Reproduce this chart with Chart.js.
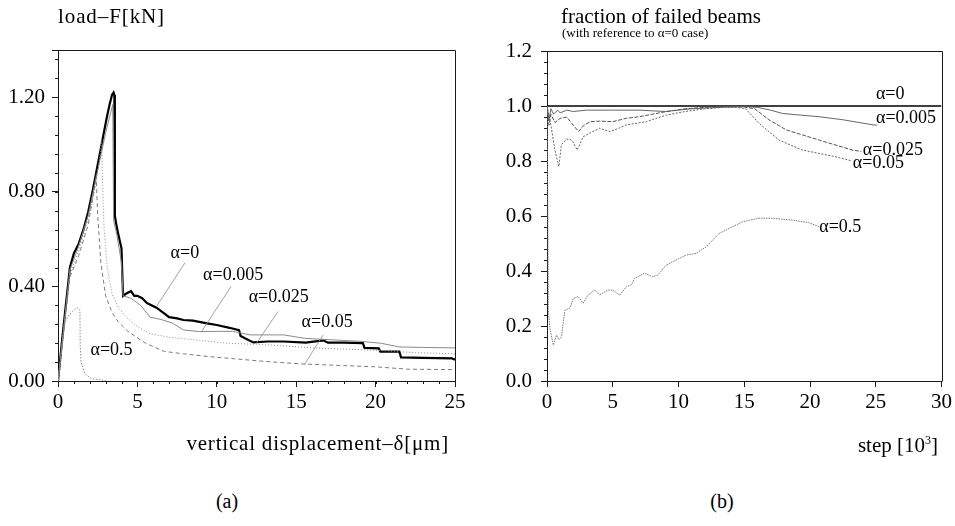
<!DOCTYPE html>
<html>
<head>
<meta charset="utf-8">
<script src="https://cdn.jsdelivr.net/npm/chart.js@4.4.0/dist/chart.umd.min.js"></script>
<style>
  body { margin: 0; background: #fff; }
  #wrap { position: relative; width: 955px; height: 526px; overflow: hidden; font-family: "Liberation Serif", serif; color: #000; }
  canvas { position: absolute; top: 0; }
  .txt { position: absolute; line-height: 1; white-space: nowrap; font-family: "Liberation Serif", serif; }
</style>
</head>
<body>
<div id="wrap">
  <canvas id="chartA" width="470" height="460" style="left:0"></canvas>
  <canvas id="chartB" width="485" height="460" style="left:470px"></canvas>
  <div class="txt" style="left:58px; top:6px; font-size:21px; letter-spacing:0.9px">load–F[kN]</div>
  <div class="txt" style="left:561px; top:6px; font-size:21px">fraction of failed beams</div>
  <div class="txt" style="left:562px; top:26px; font-size:13px">(with reference to α=0 case)</div>
  <div class="txt" style="right:506px; top:433px; font-size:21px; letter-spacing:0.8px">vertical displacement–δ[μm]</div>
  <div class="txt" style="right:17px; top:434px; font-size:21px">step [10<sup style="font-size:12px; vertical-align:8px">3</sup>]</div>
  <div class="txt" style="left:227px; top:491px; font-size:20px; transform:translateX(-50%)">(a)</div>
  <div class="txt" style="left:722px; top:491px; font-size:20px; transform:translateX(-50%)">(b)</div>
</div>
<script>
// (a) load vs vertical displacement
const dispA0 = [0, 0.3, 0.75, 1.0, 1.3, 1.6, 1.9, 2.2, 2.5, 2.8, 3.06, 3.25, 3.4, 3.5, 3.55, 3.58, 3.65, 3.8, 4.0, 4.05, 4.1, 4.3, 4.6, 4.8, 5.0, 5.3, 5.6, 6.2, 6.6, 7.0, 7.5, 7.9, 8.5, 9.3, 10.0, 10.8, 11.4, 11.5, 11.8, 12.3, 13.2, 14.2, 15.6, 16.7, 17.0, 18.0, 19.2, 19.3, 20.2, 20.3, 21.5, 21.6, 23.0, 24.8, 25];
const loadA0 = [0, 0.2, 0.48, 0.54, 0.58, 0.64, 0.715, 0.81, 0.915, 1.02, 1.11, 1.17, 1.21, 1.22, 1.21, 0.70, 0.67, 0.62, 0.56, 0.45, 0.36, 0.37, 0.38, 0.36, 0.36, 0.35, 0.33, 0.31, 0.29, 0.27, 0.265, 0.258, 0.255, 0.245, 0.237, 0.225, 0.215, 0.19, 0.18, 0.163, 0.167, 0.167, 0.162, 0.172, 0.162, 0.162, 0.16, 0.14, 0.138, 0.124, 0.124, 0.10, 0.098, 0.096, 0.09];

const dispA005 = [0, 0.75, 1.3, 1.9, 2.5, 3.0, 3.3, 3.45, 3.5, 3.7, 4.0, 4.1, 4.6, 5.2, 5.8, 6.5, 7.2, 7.9, 8.9, 10.0, 11.0, 12.1, 14.2, 15.6, 17.3, 19.0, 20.3, 21.5, 23.0, 25];
const loadA005 = [0, 0.47, 0.57, 0.70, 0.89, 1.05, 1.13, 1.17, 0.68, 0.62, 0.50, 0.36, 0.35, 0.32, 0.27, 0.26, 0.245, 0.216, 0.209, 0.21, 0.21, 0.195, 0.195, 0.18, 0.174, 0.168, 0.16, 0.144, 0.142, 0.14];

const dispA025 = [0, 0.75, 1.3, 1.9, 2.3, 2.6, 2.75, 2.8, 2.9, 3.1, 3.4, 3.8, 4.3, 5.0, 5.8, 7.0, 8.5, 10.6, 12.5, 14, 16, 18, 20, 22.5, 25];
const loadA025 = [0, 0.45, 0.55, 0.68, 0.80, 0.93, 1.02, 0.85, 0.65, 0.48, 0.37, 0.31, 0.27, 0.23, 0.20, 0.185, 0.175, 0.16, 0.155, 0.15, 0.14, 0.135, 0.13, 0.12, 0.115];

const dispA05 = [0, 0.75, 1.3, 1.9, 2.2, 2.4, 2.5, 2.7, 3.0, 3.4, 3.8, 4.4, 5.5, 6.7, 7.9, 9.5, 11.1, 13, 15.4, 18, 20, 22, 25];
const loadA05 = [0, 0.44, 0.53, 0.66, 0.78, 0.87, 0.70, 0.50, 0.36, 0.29, 0.25, 0.21, 0.16, 0.125, 0.115, 0.103, 0.094, 0.083, 0.072, 0.065, 0.06, 0.05, 0.048];

const dispA5 = [0, 0.44, 0.7, 1.0, 1.2, 1.38, 1.40, 1.45, 1.7, 2.1, 3.0];
const loadA5 = [0, 0.25, 0.28, 0.30, 0.31, 0.30, 0.15, 0.08, 0.03, 0.01, 0.002];

// (b) fraction of failed beams vs step [10^3]
const stepB0 = [0, 30];
const fracB0 = [1, 1];

const stepB005 = [0, 0.15, 0.3, 0.5, 0.8, 1.0, 1.5, 2.0, 3.0, 5.0, 7.0, 9.0, 11, 13, 15, 16, 17, 17.9, 19, 20.7, 22.5, 24.7, 25.1];
const fracB005 = [1.0, 0.95, 0.99, 0.97, 0.985, 0.975, 0.985, 0.98, 0.985, 0.985, 0.985, 0.98, 0.99, 0.995, 0.998, 0.995, 0.985, 0.973, 0.968, 0.961, 0.95, 0.932, 0.93];

const stepB025 = [0, 0.15, 0.3, 0.6, 1.0, 1.5, 2.0, 2.4, 2.8, 3.3, 4.0, 5.0, 6.0, 7.0, 8.0, 9.0, 10.5, 12, 13.5, 15, 15.8, 16.9, 18.2, 20.7, 23.2, 23.9];
const fracB025 = [1.0, 0.93, 0.97, 0.94, 0.955, 0.96, 0.93, 0.907, 0.93, 0.943, 0.945, 0.943, 0.955, 0.961, 0.97, 0.979, 0.99, 0.995, 0.998, 0.996, 0.99, 0.949, 0.913, 0.876, 0.84, 0.835];

const stepB05 = [0, 0.3, 0.6, 0.9, 1.1, 1.5, 1.9, 2.3, 2.75, 3.2, 4.0, 4.8, 5.5, 6.0, 7.55, 9.07, 10.5, 12, 13.5, 14.5, 15.1, 16.1, 17.65, 19.4, 21.9, 23.2];
const fracB05 = [1.0, 0.93, 0.84, 0.78, 0.86, 0.88, 0.876, 0.84, 0.888, 0.90, 0.919, 0.907, 0.92, 0.931, 0.943, 0.967, 0.98, 0.99, 0.995, 0.995, 0.99, 0.938, 0.876, 0.84, 0.816, 0.80];

const stepB5 = [0, 0.05, 0.1, 0.2, 0.35, 0.48, 0.73, 0.9, 1.1, 1.36, 1.74, 2.0, 2.37, 2.75, 3.13, 3.64, 4.0, 4.64, 5.0, 5.53, 6.04, 6.4, 6.67, 7.42, 8.05, 8.43, 9.07, 9.83, 10.58, 11.34, 12.1, 13.1, 13.86, 14.87, 16.1, 17.1, 18.66, 19.9, 20.7];
const fracB5 = [1.0, 0.7, 0.26, 0.20, 0.16, 0.131, 0.167, 0.15, 0.16, 0.258, 0.265, 0.30, 0.307, 0.283, 0.313, 0.331, 0.313, 0.331, 0.33, 0.313, 0.343, 0.349, 0.373, 0.392, 0.379, 0.385, 0.422, 0.44, 0.458, 0.464, 0.488, 0.537, 0.555, 0.579, 0.592, 0.592, 0.585, 0.576, 0.561];

const pts = (xs, ys) => xs.map((x, i) => ({x: x, y: ys[i]}));
const serif = '"Liberation Serif", "DejaVu Serif", serif';
const ink = '#1a1a1a';

// box round the plot area
const frame = {
    id: 'frame',
    afterDraw(chart) {
        const {ctx, chartArea: a} = chart;
        ctx.save();
        ctx.strokeStyle = ink;
        ctx.lineWidth = 1;
        ctx.beginPath();
        ctx.moveTo(Math.round(a.left) + 0.5, Math.round(a.top) + 0.5);
        ctx.lineTo(Math.round(a.right) + 0.5, Math.round(a.top) + 0.5);
        ctx.lineTo(Math.round(a.right) + 0.5, Math.round(a.bottom) + 0.5);
        ctx.stroke();
        ctx.restore();
    }
};

// short ticks between the labelled ones
const minorTicks = {
    id: 'minorTicks',
    afterDraw(chart, args, opts) {
        const {ctx, chartArea: a} = chart;
        const x = chart.scales.x, y = chart.scales.y;
        ctx.save();
        ctx.strokeStyle = ink;
        ctx.lineWidth = 1;
        ctx.beginPath();
        if (opts.x) {
            for (let v = x.min; v <= x.max + 1e-9; v += opts.x) {
                const px = Math.round(x.getPixelForValue(v)) + 0.5;
                ctx.moveTo(px, a.bottom);
                ctx.lineTo(px, a.bottom + 3);
            }
        }
        if (opts.y) {
            for (let v = y.min; v <= y.max + 1e-9; v += opts.y) {
                const py = Math.round(y.getPixelForValue(v)) + 0.5;
                ctx.moveTo(a.left - 3, py);
                ctx.lineTo(a.left, py);
            }
        }
        ctx.stroke();
        ctx.restore();
    }
};

// alpha labels with their leader lines, placed in data units
const curveLabels = {
    id: 'curveLabels',
    afterDatasetsDraw(chart, args, opts) {
        const {ctx} = chart;
        const x = chart.scales.x, y = chart.scales.y;
        ctx.save();
        opts.items.forEach(it => {
            if (it.from) {
                ctx.strokeStyle = '#8a8a8a';
                ctx.lineWidth = 0.8;
                ctx.beginPath();
                ctx.moveTo(x.getPixelForValue(it.from[0]), y.getPixelForValue(it.from[1]));
                ctx.lineTo(x.getPixelForValue(it.to[0]), y.getPixelForValue(it.to[1]));
                ctx.stroke();
            }
            ctx.font = '18px ' + serif;
            ctx.fillStyle = '#000';
            ctx.textAlign = 'center';
            ctx.textBaseline = 'middle';
            ctx.fillText(it.text, x.getPixelForValue(it.at[0]), y.getPixelForValue(it.at[1]));
        });
        ctx.restore();
    }
};

function axis(extra) {
    return Object.assign({
        type: 'linear',
        grid: { display: true, drawOnChartArea: false, drawTicks: true, tickLength: 6, color: ink },
        border: { display: true, color: ink, width: 1 },
    }, extra);
}

function line(data, color, width, dash) {
    return {
        data: data,
        borderColor: color,
        borderWidth: width,
        borderDash: dash,
        pointRadius: 0,
        tension: 0,
        fill: false
    };
}

new Chart(document.getElementById('chartA').getContext('2d'), {
    type: 'line',
    data: {
        datasets: [
            line(pts(dispA5, loadA5), '#8c8c8c', 1, [1.5, 1.5]),
            line(pts(dispA05, loadA05), '#7a7a7a', 1, [4, 3]),
            line(pts(dispA025, loadA025), '#8c8c8c', 1, [1, 2]),
            line(pts(dispA005, loadA005), '#8a8a8a', 1, []),
            line(pts(dispA0, loadA0), '#000', 2.2, [])
        ]
    },
    options: {
        responsive: false,
        animation: false,
        devicePixelRatio: 1,
        layout: { padding: { top: 50, right: 15, left: 0, bottom: 0 } },
        plugins: {
            legend: { display: false },
            tooltip: { enabled: false },
            minorTicks: { x: 1, y: 0.08 },
            curveLabels: {
                items: [
                    { text: 'α=0', at: [7.99, 0.542], from: [8.0, 0.50], to: [6.2, 0.315] },
                    { text: 'α=0.005', at: [11.03, 0.449], from: [10.9, 0.40], to: [9.04, 0.209] },
                    { text: 'α=0.025', at: [13.9, 0.354], from: [13.86, 0.294], to: [12.5, 0.16] },
                    { text: 'α=0.05', at: [16.95, 0.248], from: [16.7, 0.195], to: [15.5, 0.068] },
                    { text: 'α=0.5', at: [3.37, 0.131] }
                ]
            }
        },
        scales: {
            x: axis({
                min: 0, max: 25,
                ticks: { stepSize: 5, color: '#000', padding: 3, maxRotation: 0, font: { family: serif, size: 21 } },
                afterFit: s => { s.height = 79; }
            }),
            y: axis({
                min: 0, max: 1.4,
                ticks: {
                    stepSize: 0.4, color: '#000', padding: 7, font: { family: serif, size: 21 },
                    callback: v => Math.abs(v - 1.4) < 1e-6 ? '' : v.toFixed(2)
                },
                afterFit: s => { s.width = 58; }
            })
        }
    },
    plugins: [frame, minorTicks, curveLabels]
});

new Chart(document.getElementById('chartB').getContext('2d'), {
    type: 'line',
    data: {
        datasets: [
            line(pts(stepB5, fracB5), '#777', 1, [1.5, 1]),
            line(pts(stepB05, fracB05), '#666', 1, [2, 1.5]),
            line(pts(stepB025, fracB025), '#555', 1, [4, 1.5]),
            line(pts(stepB005, fracB005), '#666', 1, []),
            line(pts(stepB0, fracB0), '#000', 1.5, [])
        ]
    },
    options: {
        responsive: false,
        animation: false,
        devicePixelRatio: 1,
        layout: { padding: { top: 51, right: 12, left: 0, bottom: 0 } },
        plugins: {
            legend: { display: false },
            tooltip: { enabled: false },
            minorTicks: { y: 0.04 },
            curveLabels: {
                items: [
                    { text: 'α=0', at: [26.1, 1.044] },
                    { text: 'α=0.005', at: [27.3, 0.956] },
                    { text: 'α=0.025', at: [26.3, 0.84] },
                    { text: 'α=0.05', at: [25.2, 0.79] },
                    { text: 'α=0.5', at: [22.3, 0.558] }
                ]
            }
        },
        scales: {
            x: axis({
                min: 0, max: 30,
                ticks: { stepSize: 5, color: '#000', padding: 3, maxRotation: 0, font: { family: serif, size: 21 } },
                afterFit: s => { s.height = 79; }
            }),
            y: axis({
                min: 0, max: 1.2,
                ticks: { stepSize: 0.2, color: '#000', padding: 9, font: { family: serif, size: 21 }, callback: v => v.toFixed(1) },
                afterFit: s => { s.width = 77; }
            })
        }
    },
    plugins: [frame, minorTicks, curveLabels]
});
</script>
</body>
</html>
